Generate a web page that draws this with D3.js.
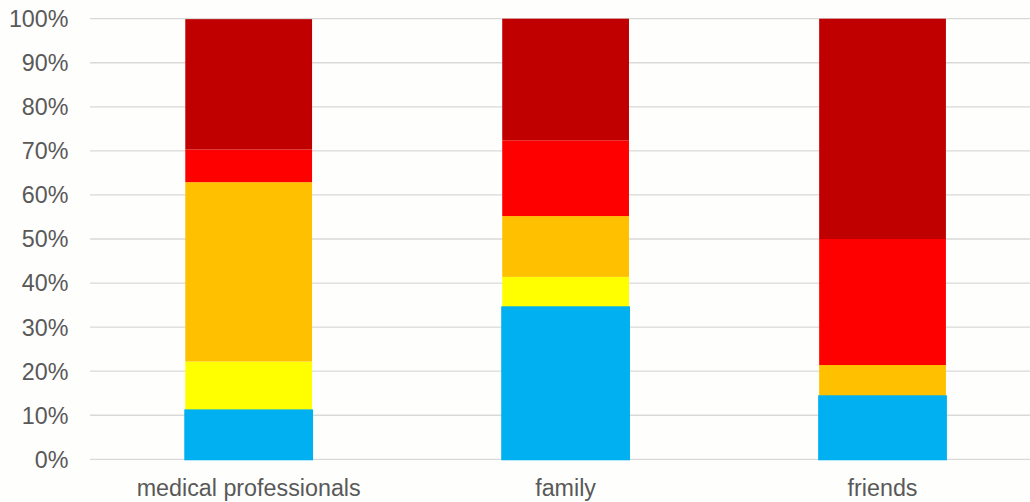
<!DOCTYPE html>
<html><head><meta charset="utf-8">
<script src="https://cdn.jsdelivr.net/npm/d3@7"></script>
<style>html,body{margin:0;padding:0;background:#fefefd;}svg{display:block;}</style>
</head><body>
<svg id="c" width="1030" height="502"></svg>
<script>
const categories = ["medical professionals", "family", "friends"];
const seriesNames = ["s1", "s2", "s3", "s4", "s5"];
const s1 = [11.1, 34.5, 14.3];
const s2 = [11.1, 6.9, 0];
const s3 = [40.7, 13.8, 7.1];
const s4 = [7.4, 17.2, 28.6];
const s5 = [29.6, 27.6, 50.0];
const colors = ["#00B0F0", "#FFFF00", "#FFC000", "#FF0000", "#C00000"];
const yTicks = [0, 10, 20, 30, 40, 50, 60, 70, 80, 90, 100];

const allSeries = [s1, s2, s3, s4, s5];
const rows = categories.map((c, i) => {
  const r = {cat: c};
  seriesNames.forEach((s, j) => r[s] = allSeries[j][i]);
  return r;
});
const stacked = d3.stack().keys(seriesNames)(rows);

const svg = d3.select("#c");
const x = d3.scaleBand().domain(categories).range([90.2, 1041]).paddingInner(0.6).paddingOuter(0.3);
const y = d3.scaleLinear().domain([0, 100]).range([459.3, 18.7]);

// gridlines
svg.append("g").selectAll("line").data(yTicks).join("line")
  .attr("x1", 90).attr("x2", 1030)
  .attr("y1", d => y(d)).attr("y2", d => y(d))
  .attr("stroke", "#d9d9d9").attr("stroke-width", 1.3);

// y labels
svg.append("g").selectAll("text").data(yTicks).join("text")
  .attr("x", 68.5).attr("y", d => y(d)).attr("dy", "0.36em")
  .attr("text-anchor", "end")
  .attr("font-family", "Liberation Sans, Arial, sans-serif")
  .attr("font-size", 23.3).attr("fill", "#595959")
  .text(d => d + "%");

// bars
svg.append("g").selectAll("g").data(stacked).join("g")
  .attr("fill", (d, i) => colors[i])
  .selectAll("rect").data(d => d).join("rect")
  .attr("x", d => x(d.data.cat))
  .attr("width", x.bandwidth())
  .attr("y", d => y(d[1]))
  .attr("height", d => Math.max(0, y(d[0]) - y(d[1])));

// blue bars slightly wider outline
svg.append("g").selectAll("rect").data(stacked[0]).join("rect")
  .attr("x", d => x(d.data.cat))
  .attr("width", x.bandwidth())
  .attr("y", d => y(d[1]))
  .attr("height", d => y(d[0]) - y(d[1]))
  .attr("fill", "none").attr("stroke", "#00B0F0").attr("stroke-width", 2);

// x labels
svg.append("g").selectAll("text").data(categories).join("text")
  .attr("x", d => x(d) + x.bandwidth() / 2).attr("y", 495.5)
  .attr("text-anchor", "middle")
  .attr("font-family", "Liberation Sans, Arial, sans-serif")
  .attr("font-size", 23.3).attr("fill", "#595959")
  .text(d => d);
</script>
</body></html>
